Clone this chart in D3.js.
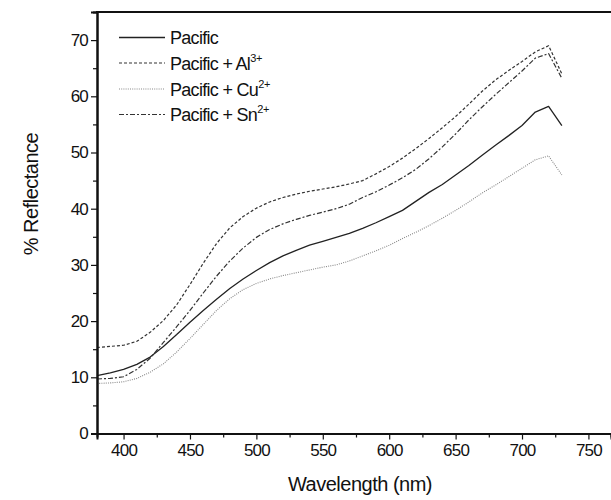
<!DOCTYPE html>
<html><head><meta charset="utf-8">
<script src="https://cdn.jsdelivr.net/npm/d3@7"></script>
<style>
html,body{margin:0;padding:0;background:#fff;}
text{font-family:"Liberation Sans",Arial,sans-serif;fill:#111;}
</style></head>
<body><svg id="c" width="611" height="500"></svg>
<script>
const wavelengths = d3.range(380, 731, 10);
const pacific = [10.3,10.8,11.4,12.3,13.6,15.5,17.6,19.8,21.9,23.9,25.8,27.5,29.0,30.4,31.6,32.6,33.5,34.2,34.9,35.6,36.5,37.5,38.6,39.7,41.3,42.9,44.3,46.0,47.7,49.5,51.3,53.0,54.8,57.2,58.2,54.8];
const pacificAl = [15.3,15.5,15.7,16.4,18.0,20.1,22.9,26.5,30.3,33.8,36.6,38.6,40.1,41.2,42.0,42.6,43.1,43.5,43.9,44.4,45.0,46.2,47.5,49.0,50.7,52.5,54.4,56.4,58.6,60.9,62.9,64.6,66.2,67.9,69.0,64.0];
const pacificCu = [8.9,9.0,9.2,9.8,10.9,12.4,14.5,16.9,19.4,21.9,24.0,25.6,26.7,27.5,28.1,28.6,29.1,29.6,30.0,30.7,31.6,32.5,33.5,34.7,35.8,37.0,38.3,39.7,41.2,42.8,44.2,45.7,47.2,48.7,49.4,46.0];
const pacificSn = [9.7,9.8,10.1,11.4,13.4,16.2,19.0,21.9,25.0,28.0,30.7,33.0,34.9,36.3,37.3,38.1,38.8,39.4,40.0,40.8,42.0,43.0,44.2,45.5,47.0,48.9,51.0,53.3,55.8,58.1,60.3,62.4,64.5,66.8,67.6,63.2];
const seriesNames = ["Pacific","Pacific + Al","Pacific + Cu","Pacific + Sn"];
const seriesSups = ["","3+","2+","2+"];
const xTicks = [400,450,500,550,600,650,700,750];
const xMinor = [425,475,525,575,625,675,725];
const yTicks = [0,10,20,30,40,50,60,70];
const yMinor = [5,15,25,35,45,55,65];
const xTitle = "Wavelength (nm)";
const yTitle = "% Reflectance";

const svg = d3.select("#c");
const x = d3.scaleLinear().domain([380,767]).range([97,611]);
const y = d3.scaleLinear().domain([0,75]).range([433.5,12]);

const styles = [
  {stroke:"#222", dash:null, w:1.3},
  {stroke:"#333", dash:"3,2", w:1.2},
  {stroke:"#888", dash:"1,1.2", w:1.1},
  {stroke:"#333", dash:"5,2,2,2", w:1.2}
];
const allSeries = [pacific, pacificAl, pacificCu, pacificSn];

const line = d3.line().x((d,i)=>x(wavelengths[i])).y(d=>y(d));
allSeries.forEach((s,k)=>{
  svg.append("path").datum(s).attr("d", line)
    .attr("fill","none").attr("stroke",styles[k].stroke)
    .attr("stroke-width",styles[k].w)
    .attr("stroke-linejoin","round")
    .attr("stroke-dasharray",styles[k].dash);
});

// axes
const xAxis = svg.append("g").attr("transform","translate(0,433.5)")
  .call(d3.axisBottom(x).tickValues(xTicks).tickSize(6).tickPadding(4).tickFormat(d3.format("d")));
const xAxisMinor = svg.append("g").attr("transform","translate(0,433.5)")
  .call(d3.axisBottom(x).tickValues(xMinor).tickSize(4).tickFormat(""));
const yAxis = svg.append("g").attr("transform","translate(97,0)")
  .call(d3.axisLeft(y).tickValues(yTicks).tickSize(6).tickPadding(3).tickFormat(d3.format("d")));
const yAxisMinor = svg.append("g").attr("transform","translate(97,0)")
  .call(d3.axisLeft(y).tickValues(yMinor).tickSize(4).tickFormat(""));
[xAxis,xAxisMinor,yAxis,yAxisMinor].forEach(g=>{
  g.select(".domain").attr("stroke","#111").attr("stroke-width",2);
  g.selectAll(".tick line").attr("stroke","#111").attr("stroke-width",1.2);
  g.selectAll(".tick text").attr("font-size",17).attr("letter-spacing","-0.8px")
    .attr("font-family","'Liberation Sans',Arial,sans-serif").attr("fill","#111");
});
// top frame
svg.append("line").attr("x1",x.range()[0]-1).attr("x2",x.range()[1])
  .attr("y1",y(75)).attr("y2",y(75)).attr("stroke","#111").attr("stroke-width",2);

// titles
svg.append("text").attr("x",360).attr("y",491).attr("text-anchor","middle")
  .attr("font-size",20).attr("letter-spacing","-0.5px").text(xTitle);
svg.append("text").attr("transform","translate(38,194) rotate(-90)")
  .attr("text-anchor","middle").attr("font-size",20).attr("letter-spacing","-0.5px").text(yTitle);

// legend
const legRows = [37.5,63,89,114.5];
seriesNames.forEach((n,k)=>{
  svg.append("line").attr("x1",119).attr("x2",165)
    .attr("y1",legRows[k]).attr("y2",legRows[k])
    .attr("stroke",styles[k].stroke).attr("stroke-width",styles[k].w)
    .attr("stroke-dasharray",styles[k].dash);
  const t = svg.append("text").attr("x",170).attr("y",legRows[k]+6.5)
    .attr("font-size",18).attr("letter-spacing","-0.7px");
  t.append("tspan").text(n);
  if (seriesSups[k]) t.append("tspan").attr("font-size",11).attr("dy",-8).attr("letter-spacing","-0.3px").text(seriesSups[k]);
});
</script></body></html>
